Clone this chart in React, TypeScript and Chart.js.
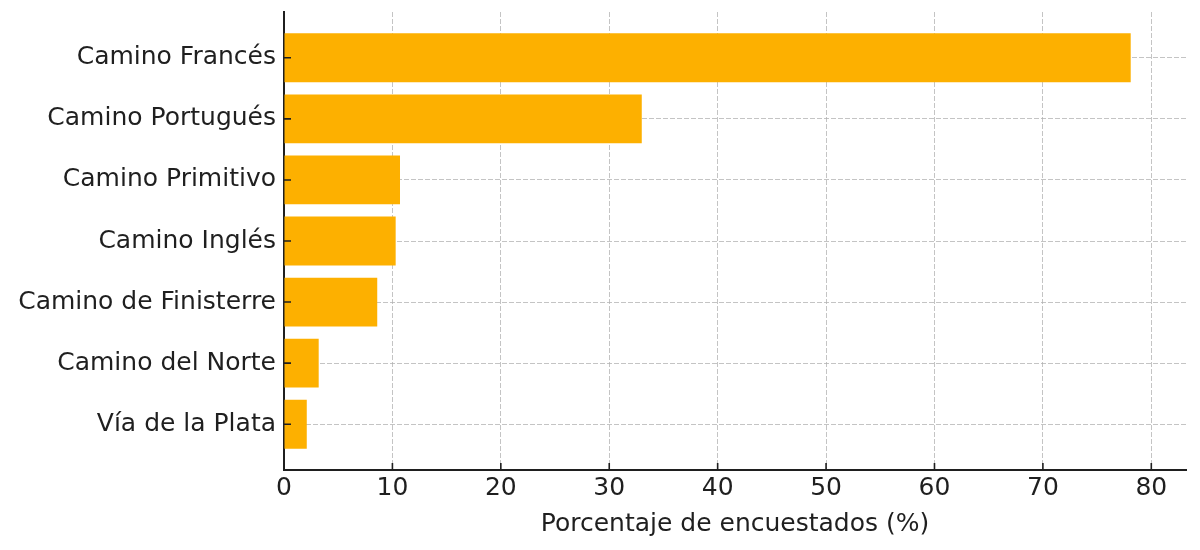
import { useEffect, useRef } from 'react'
import { Chart, registerables } from 'chart.js'

Chart.register(...registerables)

const routes = [
  'Camino Francés',
  'Camino Portugués',
  'Camino Primitivo',
  'Camino Inglés',
  'Camino de Finisterre',
  'Camino del Norte',
  'Vía de la Plata',
]
const shares = [78.1, 33.0, 10.7, 10.3, 8.6, 3.2, 2.1]
const xTicks = [0, 10, 20, 30, 40, 50, 60, 70, 80]

const FONT = 'DejaVu Sans'
const INK = '#1f1f1f'
const GRID = 'rgba(176, 176, 176, 0.75)'

// matplotlib-style ticks pointing into the plot
const innerTicks = {
  id: 'innerTicks',
  afterDraw(chart: Chart) {
    const { ctx, chartArea, scales } = chart
    const len = 7
    ctx.save()
    ctx.strokeStyle = INK
    ctx.lineWidth = 1.6
    ctx.beginPath()
    scales.x.ticks.forEach(t => {
      const px = scales.x.getPixelForValue(t.value)
      ctx.moveTo(px, chartArea.bottom)
      ctx.lineTo(px, chartArea.bottom - len)
    })
    scales.y.ticks.forEach(t => {
      const py = scales.y.getPixelForValue(t.value)
      ctx.moveTo(chartArea.left, py)
      ctx.lineTo(chartArea.left + len, py)
    })
    ctx.stroke()
    ctx.restore()
  },
}

export default function App() {
  const canvasRef = useRef<HTMLCanvasElement>(null)
  const chartRef = useRef<Chart | null>(null)

  useEffect(() => {
    document.body.style.margin = '0'
    if (!canvasRef.current) return
    chartRef.current?.destroy()

    chartRef.current = new Chart(canvasRef.current, {
      type: 'bar',
      data: {
        datasets: [
          {
            label: 'Porcentaje',
            data: shares.map((v, i) => ({ x: v, y: i })),
            backgroundColor: '#fdb000',
            borderWidth: 0,
            barPercentage: 0.8,
            categoryPercentage: 1,
          },
        ],
      },
      options: {
        indexAxis: 'y',
        animation: false,
        responsive: true,
        maintainAspectRatio: false,
        layout: { padding: { top: 12, right: 14, left: 0, bottom: 0 } },
        plugins: {
          legend: { display: false },
          tooltip: { enabled: false },
        },
        scales: {
          x: {
            type: 'linear',
            min: 0,
            max: 83.2,
            z: 1,
            afterBuildTicks: axis => {
              axis.ticks = xTicks.map(v => ({ value: v }))
            },
            afterFit: axis => {
              axis.height = 80
              axis.paddingLeft = 0
              axis.paddingRight = 0
            },
            grid: { color: GRID, lineWidth: 1, drawTicks: false },
            border: { display: true, color: INK, width: 2, dash: [5, 2] },
            ticks: { color: INK, padding: 3, font: { family: FONT, size: 25 } },
            title: {
              display: true,
              text: 'Porcentaje de encuestados (%)',
              color: INK,
              padding: { top: 0, bottom: 11 },
              font: { family: FONT, size: 25 },
            },
          },
          y: {
            type: 'linear',
            min: -0.75,
            max: 6.75,
            reverse: true,
            offset: false,
            z: 1,
            afterBuildTicks: axis => {
              axis.ticks = routes.map((_, i) => ({ value: i }))
            },
            afterFit: axis => {
              axis.width = 284
              axis.paddingTop = 0
              axis.paddingBottom = 0
            },
            grid: { color: GRID, lineWidth: 1, drawTicks: false, offset: false },
            border: { display: true, color: INK, width: 2, dash: [5, 2] },
            ticks: {
              color: INK,
              padding: 8,
              font: { family: FONT, size: 25 },
              callback: v => routes[Number(v)] ?? '',
            },
          },
        },
      },
      plugins: [innerTicks],
    })

    return () => chartRef.current?.destroy()
  }, [])

  return (
    <div style={{ width: 1200, height: 550, position: 'relative' }}>
      <canvas ref={canvasRef} />
    </div>
  )
}
